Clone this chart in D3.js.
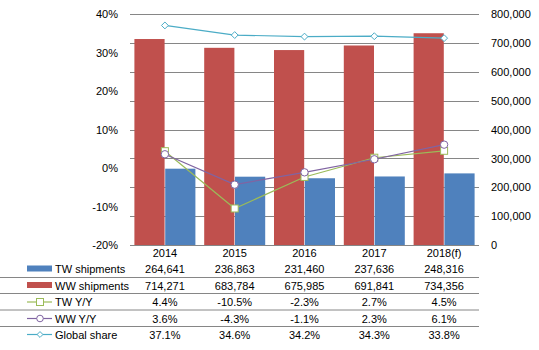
<!DOCTYPE html>
<html lang="en">
<head>
<meta charset="UTF-8">
<title>TW vs WW shipments</title>
<script src="https://d3js.org/d3.v7.min.js"></script>
<style>
  body { margin: 0; background: #fff; }
  text { font-family: "Liberation Sans", Arial, sans-serif; font-size: 11px; fill: #000; }
</style>
</head>
<body>
<script>
    var w = 539;
    var h = 350;

    // data
    var years = ["2014", "2015", "2016", "2017", "2018(f)"];
    var twShip = [264641, 236863, 231460, 237636, 248316];
    var wwShip = [714271, 683784, 675985, 691841, 734356];
    var twYoY = [0.044, -0.105, -0.023, 0.027, 0.045];
    var wwYoY = [0.036, -0.043, -0.011, 0.023, 0.061];
    var share = [0.371, 0.346, 0.342, 0.343, 0.338];
    var leftTicks = [-0.2, -0.1, 0, 0.1, 0.2, 0.3, 0.4];
    var rightTicks = [0, 100000, 200000, 300000, 400000, 500000, 600000, 700000, 800000];

    var plot = { left: 130, right: 479, top: 14.3, bottom: 245 };

    // plain hyphen for negatives, like the original
    var locale = d3.formatLocale({ decimal: ".", thousands: ",", grouping: [3], currency: ["", ""], minus: "-" });

    var svg = d3.select("body").append("svg")
        .attr("width", w)
        .attr("height", h);

    var x = d3.scaleBand()
        .domain(years)
        .range([plot.left, plot.right])
        .paddingInner(0.126)
        .paddingOuter(0.063);

    var xSub = d3.scaleBand()
        .domain(["ww", "tw"])
        .range([0, x.bandwidth()])
        .paddingInner(0.02);

    var yL = d3.scaleLinear().domain([-0.2, 0.4]).range([plot.bottom, plot.top]);
    var yR = d3.scaleLinear().domain([0, 800000]).range([plot.bottom, plot.top]);

    // gridlines follow the right axis
    svg.append("g")
        .selectAll("line")
        .data(rightTicks)
        .enter()
        .append("line")
        .attr("x1", plot.left)
        .attr("x2", plot.right)
        .attr("y1", function (d) { return Math.round(yR(d)) + 0.5; })
        .attr("y2", function (d) { return Math.round(yR(d)) + 0.5; })
        .attr("stroke", "#868686")
        .attr("stroke-width", 1);

    // axes (labels only)
    var leftAxis = svg.append("g")
        .attr("transform", "translate(" + (plot.left - 9) + ",0)")
        .call(d3.axisLeft(yL).tickValues(leftTicks).tickFormat(locale.format(".0%")).tickSize(0));
    leftAxis.select(".domain").remove();
    leftAxis.selectAll("text").attr("font-size", 11).attr("font-family", "Liberation Sans, Arial, sans-serif").attr("fill", "#000");

    var rightAxis = svg.append("g")
        .attr("transform", "translate(" + (plot.right + 9) + ",0)")
        .call(d3.axisRight(yR).tickValues(rightTicks).tickFormat(locale.format(",")).tickSize(0));
    rightAxis.select(".domain").remove();
    rightAxis.selectAll("text").attr("font-size", 11).attr("font-family", "Liberation Sans, Arial, sans-serif").attr("fill", "#000");

    // bars
    svg.append("g")
        .selectAll("rect")
        .data(wwShip)
        .enter()
        .append("rect")
        .attr("x", function (d, i) { return x(years[i]) + xSub("ww"); })
        .attr("y", function (d) { return yR(d); })
        .attr("width", xSub.bandwidth())
        .attr("height", function (d) { return yR(0) - yR(d); })
        .attr("fill", "#C0504D");

    svg.append("g")
        .selectAll("rect")
        .data(twShip)
        .enter()
        .append("rect")
        .attr("x", function (d, i) { return x(years[i]) + xSub("tw"); })
        .attr("y", function (d) { return yR(d); })
        .attr("width", xSub.bandwidth())
        .attr("height", function (d) { return yR(0) - yR(d); })
        .attr("fill", "#4F81BD");

    var cx = function (d, i) { return x(years[i]) + x.bandwidth() / 2; };

    var line = d3.line()
        .x(cx)
        .y(function (d) { return yL(d); });

    // TW Y/Y - green squares
    svg.append("path")
        .datum(twYoY)
        .attr("d", line)
        .attr("fill", "none")
        .attr("stroke", "#9BBB59")
        .attr("stroke-width", 1.2);
    svg.append("g")
        .selectAll("rect")
        .data(twYoY)
        .enter()
        .append("rect")
        .attr("x", function (d, i) { return cx(d, i) - 3.5; })
        .attr("y", function (d) { return yL(d) - 3.5; })
        .attr("width", 7)
        .attr("height", 7)
        .attr("fill", "#fff")
        .attr("stroke", "#9BBB59")
        .attr("stroke-width", 1);

    // WW Y/Y - purple circles
    svg.append("path")
        .datum(wwYoY)
        .attr("d", line)
        .attr("fill", "none")
        .attr("stroke", "#8064A2")
        .attr("stroke-width", 1.2);
    svg.append("g")
        .selectAll("circle")
        .data(wwYoY)
        .enter()
        .append("circle")
        .attr("cx", cx)
        .attr("cy", function (d) { return yL(d); })
        .attr("r", 3.7)
        .attr("fill", "#fff")
        .attr("stroke", "#8064A2")
        .attr("stroke-width", 1);

    // Global share - light blue diamonds
    svg.append("path")
        .datum(share)
        .attr("d", line)
        .attr("fill", "none")
        .attr("stroke", "#4BACC6")
        .attr("stroke-width", 1.2);
    svg.append("g")
        .selectAll("path")
        .data(share)
        .enter()
        .append("path")
        .attr("d", d3.symbol().type(d3.symbolDiamond2).size(30))
        .attr("transform", function (d, i) { return "translate(" + cx(d, i) + "," + yL(d) + ")"; })
        .attr("fill", "#fff")
        .attr("stroke", "#4BACC6")
        .attr("stroke-width", 1);

    // data table
    var rowY = [269, 285.5, 302, 318.5, 334.5];
    var rowSep = [277.5, 293.5, 310, 326.5];
    var fmtInt = locale.format(",");
    var fmtPct = locale.format(".1%");
    var rows = [
        { name: "TW shipments", values: twShip, fmt: fmtInt, key: "bar", color: "#4F81BD" },
        { name: "WW shipments", values: wwShip, fmt: fmtInt, key: "bar", color: "#C0504D" },
        { name: "TW Y/Y", values: twYoY, fmt: fmtPct, key: "square", color: "#9BBB59" },
        { name: "WW Y/Y", values: wwYoY, fmt: fmtPct, key: "circle", color: "#8064A2" },
        { name: "Global share", values: share, fmt: fmtPct, key: "diamond", color: "#4BACC6" }
    ];

    // category labels
    svg.append("g")
        .selectAll("text")
        .data(years)
        .enter()
        .append("text")
        .attr("x", function (d) { return x(d) + x.bandwidth() / 2; })
        .attr("y", 257)
        .attr("text-anchor", "middle")
        .text(function (d) { return d; });

    svg.append("g")
        .selectAll("line")
        .data(rowSep)
        .enter()
        .append("line")
        .attr("x1", 0)
        .attr("x2", plot.right)
        .attr("y1", function (d) { return d; })
        .attr("y2", function (d) { return d; })
        .attr("stroke", "#868686")
        .attr("stroke-width", 1);

    rows.forEach(function (r, k) {
        var g = svg.append("g");
        var yc = rowY[k];
        if (r.key === "bar") {
            g.append("rect")
                .attr("x", 27).attr("y", yc - 3.5)
                .attr("width", 25).attr("height", 6)
                .attr("fill", r.color);
        } else {
            g.append("line")
                .attr("x1", 27).attr("x2", 52)
                .attr("y1", yc).attr("y2", yc)
                .attr("stroke", r.color).attr("stroke-width", 1.2);
            if (r.key === "square") {
                g.append("rect").attr("x", 36.5).attr("y", yc - 3.5).attr("width", 7).attr("height", 7)
                    .attr("fill", "#fff").attr("stroke", r.color);
            } else if (r.key === "circle") {
                g.append("circle").attr("cx", 40).attr("cy", yc).attr("r", 3.3)
                    .attr("fill", "#fff").attr("stroke", r.color);
            } else {
                g.append("path").attr("d", d3.symbol().type(d3.symbolDiamond2).size(22))
                    .attr("transform", "translate(40," + yc + ")")
                    .attr("fill", "#fff").attr("stroke", r.color);
            }
        }
        g.append("text")
            .attr("x", 55)
            .attr("y", yc + 4)
            .text(r.name);
        g.selectAll(".val")
            .data(r.values)
            .enter()
            .append("text")
            .attr("class", "val")
            .attr("x", cx)
            .attr("y", yc + 4)
            .attr("text-anchor", "middle")
            .text(function (d) { return r.fmt(d); });
    });
</script>
</body>
</html>
